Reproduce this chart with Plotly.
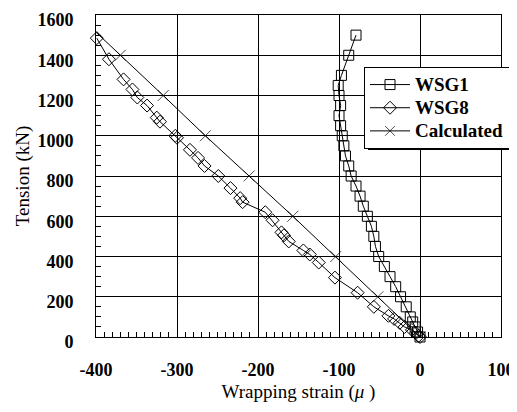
import plotly.graph_objects as go

# ---- data ----
wsg1_tension = [0, 25, 50, 75, 100, 150, 200, 250, 300, 350, 400, 450, 500, 550, 600, 650,
                700, 750, 800, 850, 900, 950, 1000, 1050, 1100, 1150, 1200, 1250, 1300, 1400, 1500]
wsg1_strain = [0, -3, -6, -9, -12, -17, -24, -30, -37, -44, -51, -55, -57, -60, -65, -70,
               -74, -79, -85, -88, -92, -94, -96, -98, -100, -98, -100, -101, -97, -88, -79]

wsg8_tension = [0, 5, 20, 35, 50, 70, 90, 105, 150, 220, 295, 370, 410, 430, 475, 505, 520,
                580, 620, 670, 690, 740, 800, 850, 890, 930, 990, 1000, 1070, 1090, 1150,
                1190, 1230, 1280, 1380, 1485]
wsg8_strain = [0, -2, -5, -10, -19, -25, -32, -39, -57, -77, -105, -125, -136, -144, -162, -168,
               -171, -182, -191, -219, -222, -234, -249, -266, -274, -284, -300, -302, -321,
               -325, -337, -349, -355, -366, -384, -399]

calc_tension = [0, 200, 400, 600, 800, 1000, 1200, 1400, 1560]
calc_strain = [0, -52, -104, -157, -211, -265, -317, -370, -412]

x_ticks = [-400, -300, -200, -100, 0, 100]
y_ticks = [0, 200, 400, 600, 800, 1000, 1200, 1400, 1600]

FONT = "Liberation Serif"

# page has an 8px body margin, so the figure is 8px smaller than the window
W, H = 509, 404
ML, MR, MT, MB = 88, 16, 7, 75
PW, PH = W - ML - MR, H - MT - MB


def px_x(p):  # window pixel -> paper x
    return (p - 8 - ML) / PW


def px_y(p):  # window pixel -> paper y
    return (H - MB - (p - 8)) / PH


def big(name):
    return '<span style="font-size:19px">' + name + '</span>'


fig = go.Figure()
fig.add_trace(go.Scatter(
    x=wsg1_strain, y=wsg1_tension, name=big("WSG1"), mode="lines+markers",
    line=dict(color="black", width=1),
    marker=dict(symbol="square-open", size=10, color="black", line=dict(width=1)),
    cliponaxis=False))
fig.add_trace(go.Scatter(
    x=wsg8_strain, y=wsg8_tension, name=big("WSG8"), mode="lines+markers",
    line=dict(color="black", width=1),
    marker=dict(symbol="diamond-open", size=10, color="black", line=dict(width=1)),
    cliponaxis=False))
fig.add_trace(go.Scatter(
    x=calc_strain, y=calc_tension, name=big("Calculated"), mode="lines+markers",
    line=dict(color="black", width=1),
    marker=dict(symbol="x-thin-open", size=[11] * (len(calc_strain) - 1) + [0],
                color="black", line=dict(width=1, color="black")),
    cliponaxis=True))

# legend drop shadow
fig.add_shape(type="rect", xref="paper", yref="paper",
              x0=px_x(368), x1=px_x(516), y0=px_y(150), y1=px_y(70),
              fillcolor="black", line=dict(width=0), layer="above")

fig.update_layout(
    width=W, height=H,
    margin=dict(l=ML, r=MR, t=MT, b=MB),
    paper_bgcolor="white", plot_bgcolor="white",
    font=dict(family=FONT, color="black", size=19),
    showlegend=True,
    legend=dict(x=px_x(364), y=px_y(67), xanchor="left", yanchor="top",
                bgcolor="white", bordercolor="black", borderwidth=1,
                font=dict(family=FONT, size=15.5, color="black", weight="bold"),
                itemwidth=40, tracegroupgap=0),
    xaxis=dict(range=[-400, 100], tickvals=x_ticks, ticktext=[str(v) for v in x_ticks],
               showline=True, linecolor="black", linewidth=1, mirror=True,
               showgrid=True, gridcolor="black", gridwidth=1, zeroline=False,
               ticks="inside", ticklen=5, tickcolor="black",
               minor=dict(dtick=10, ticks="inside", ticklen=5, tickcolor="black", showgrid=False),
               tickfont=dict(family=FONT, size=18, weight="bold"),
               ticklabelstandoff=16, ticklabeloverflow="allow",
               title=dict(text="Wrapping strain (<i>μ</i> )", font=dict(family=FONT, size=19),
                          standoff=6),
               automargin=False),
    yaxis=dict(range=[0, 1600], tickvals=y_ticks, ticktext=[str(v) for v in y_ticks],
               showline=True, linecolor="black", linewidth=1, mirror=True,
               showgrid=True, gridcolor="black", gridwidth=1, zeroline=False,
               ticks="inside", ticklen=5, tickcolor="black",
               minor=dict(dtick=50, ticks="inside", ticklen=5, tickcolor="black", showgrid=False),
               tickfont=dict(family=FONT, size=18, weight="bold"),
               ticklabelstandoff=18, ticklabeloverflow="allow", ticklabelshift=5,
               title=dict(text="Tension (kN)", font=dict(family=FONT, size=19), standoff=2),
               automargin=False),
)

fig.write_html("out.html")
